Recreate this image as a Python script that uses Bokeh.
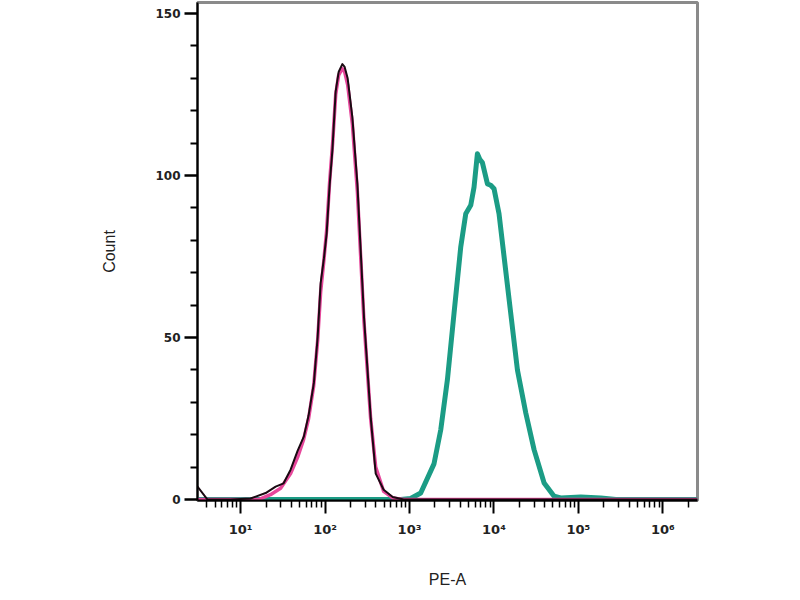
from bokeh.plotting import figure
from bokeh.models import Range1d, FixedTicker
from bokeh.embed import file_html
from bokeh.resources import INLINE

# Control (black) histogram: PE-A intensity vs count
black_x = [3.09, 4.06, 7.6, 13.1, 19.8, 26.0, 32.3, 39.1, 47.3, 56.2, 63.9, 73.8, 81.7, 88.7,
           97.0, 104.4, 113.3, 122.1, 133.7, 145.0, 160.3, 170.7, 185.3, 210.5, 241.5, 289.1,
           346.7, 398.1, 494.5, 632.4, 853.1, 2570396]
black_y = [4, 0, 0, 0.3, 2, 4, 5, 9.2, 15, 19.5, 26, 36, 50, 66.8,
           74.4, 82, 97, 107.7, 126, 132, 134.4, 133.5, 130, 118, 97.5, 56.4,
           25.6, 8, 3, 0.8, 0, 0]

# Isotype (pink) histogram
pink_x = [3.09, 16.3, 22.6, 29.8, 39.1, 47.3, 55.7, 63.9, 73.3, 81.7, 88.7, 96.2, 104.4, 113.3,
          123.0, 133.7, 145.0, 159.5, 170.7, 185.3, 210.5, 241.5, 289.1, 346.7, 398.1, 494.5,
          632.4, 853.1, 2570396]
pink_y = [0, 0, 1.5, 3.5, 8, 13, 18.5, 25, 35, 49, 64, 73, 83, 98,
          110, 125, 131, 133, 132, 128, 116, 95, 55, 25, 10, 2.5,
          0.5, 0, 0]

# Stained (teal) histogram
teal_x = [3.09, 787, 1033, 1358, 1950, 2344, 2812, 3365, 4046, 4634, 5309, 5808, 6368, 6792,
          7295, 8375, 9162, 10023, 11482, 13183, 15812, 18967, 23823, 29854, 39264, 51523,
          61802, 106660, 184077, 277332, 2570396]
teal_y = [0, 0, 0.3, 2, 11, 21.5, 37, 57.4, 78, 88.2, 90.8, 96.4, 106.7, 105,
          104, 97.4, 97, 95.9, 88.2, 74.9, 57.4, 40, 26.7, 15.4, 5.1, 1,
          0.5, 0.8, 0.5, 0, 0]

x_major = [10, 100, 1000, 10000, 100000, 1000000]
x_labels = ["10¹", "10²", "10³", "10⁴", "10⁵", "10⁶"]
y_major = [0, 50, 100, 150]
y_minor = [10, 20, 30, 40, 60, 70, 80, 90, 110, 120, 130, 140]

p = figure(width=792, height=592, x_axis_type="log", output_backend="svg",
           toolbar_location=None,
           x_range=Range1d(3.09, 2570396), y_range=Range1d(-0.3, 153.4),
           min_border_left=197, min_border_right=95, min_border_top=2, min_border_bottom=92)

p.background_fill_color = "white"
p.border_fill_color = "white"
p.outline_line_color = "#8a8a8a"
p.outline_line_width = 3
p.xgrid.visible = False
p.ygrid.visible = False

p.line(teal_x, teal_y, line_color="#1b9c85", line_width=5, line_join="round")
p.line(pink_x, pink_y, line_color="#e6479b", line_width=3.5, line_join="round")
p.line(black_x, black_y, line_color="#1a0a12", line_width=2, line_join="round")

minor_x = [k * 10 ** d for d in range(0, 7) for k in range(2, 10)]
xa = p.xaxis[0]
xa.ticker = FixedTicker(ticks=x_major, minor_ticks=minor_x)
xa.major_label_overrides = {t: l for t, l in zip(x_major, x_labels)}
xa.axis_line_color = "black"
xa.axis_line_width = 2
xa.major_tick_line_color = "black"
xa.major_tick_line_width = 2
xa.major_tick_out = 13
xa.major_tick_in = 0
xa.minor_tick_line_color = "black"
xa.minor_tick_line_width = 1.5
xa.minor_tick_out = 7
xa.minor_tick_in = 0
xa.major_label_text_font = "DejaVu Sans"
xa.major_label_text_font_style = "bold"
xa.major_label_text_font_size = "13px"
xa.major_label_text_color = "#222222"
xa.major_label_standoff = 8
xa.axis_label = "PE-A"
xa.axis_label_text_font = "Liberation Sans"
xa.axis_label_text_font_style = "normal"
xa.axis_label_text_font_size = "16px"
xa.axis_label_text_color = "#222222"
xa.axis_label_standoff = 31

ya = p.yaxis[0]
ya.ticker = FixedTicker(ticks=y_major, minor_ticks=y_minor)
ya.axis_line_color = "black"
ya.axis_line_width = 2
ya.major_tick_line_color = "black"
ya.major_tick_line_width = 2.5
ya.major_tick_out = 13
ya.major_tick_in = 0
ya.minor_tick_line_color = "black"
ya.minor_tick_line_width = 2
ya.minor_tick_out = 7
ya.minor_tick_in = 0
ya.major_label_text_font = "DejaVu Sans"
ya.major_label_text_font_style = "bold"
ya.major_label_text_font_size = "12px"
ya.major_label_text_color = "#222222"
ya.major_label_standoff = 4
ya.axis_label = "Count"
ya.axis_label_text_font = "Liberation Sans"
ya.axis_label_text_font_style = "normal"
ya.axis_label_text_font_size = "16px"
ya.axis_label_text_color = "#222222"
ya.axis_label_standoff = 34

open("out.html", "w").write(file_html(p, INLINE))
